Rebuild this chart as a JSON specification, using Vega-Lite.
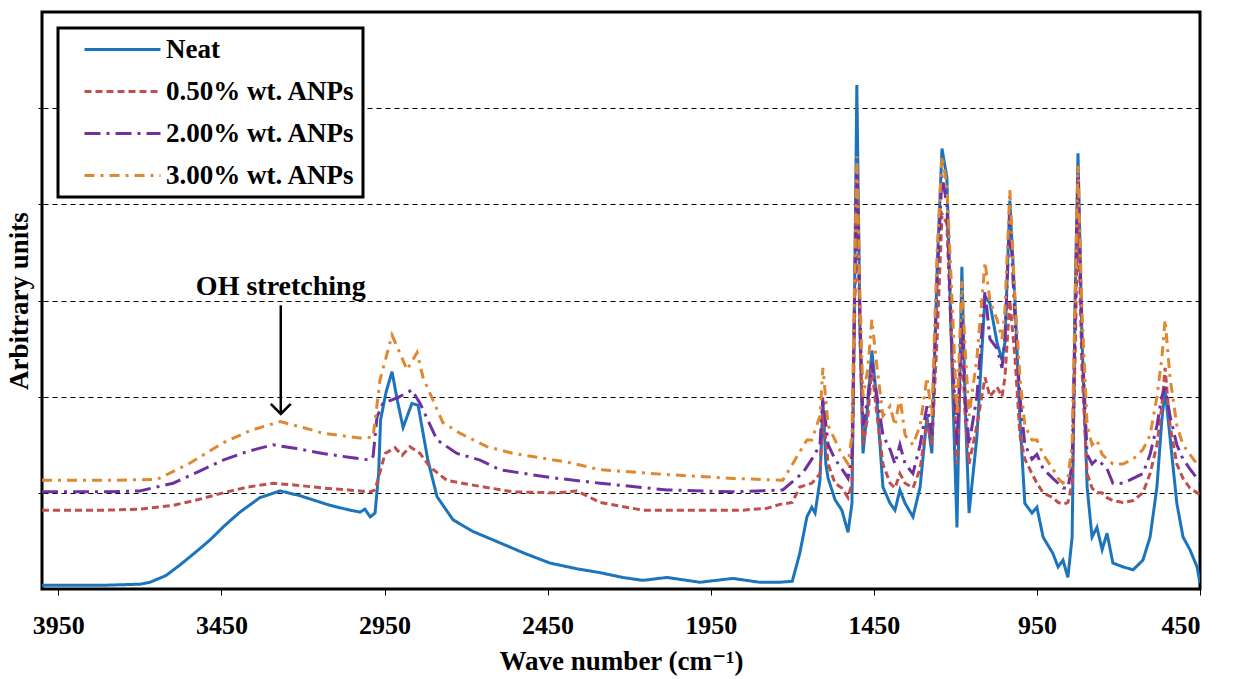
{
  "$schema": "https://vega.github.io/schema/vega-lite/v6.json",
  "width": 1158,
  "height": 577,
  "autosize": {"type": "none"},
  "padding": {"left": 42, "top": 12, "right": 34, "bottom": 90},
  "background": "white",
  "config": {
    "view": {"stroke": "black", "strokeWidth": 3},
    "font": "'Liberation Serif', 'DejaVu Serif', serif",
    "axis": {"labelFont": "'Liberation Serif', 'DejaVu Serif', serif", "titleFont": "'Liberation Serif', 'DejaVu Serif', serif", "labelFontWeight": "bold", "titleFontWeight": "bold", "labelColor": "black", "titleColor": "black", "tickColor": "black", "domain": false},
    "legend": {
      "orient": "top-left", "offset": 16, "strokeColor": "black", "strokeWidth": 3, "fillColor": "white",
      "padding": 8, "labelFont": "'Liberation Serif', 'DejaVu Serif', serif", "labelFontWeight": "bold", "labelFontSize": 27, "labelColor": "black",
      "symbolType": "M-3.8,0H3.8", "symbolSize": 400, "symbolStrokeWidth": 3, "rowPadding": 14,
      "symbolOffset": 43, "labelOffset": 30, "labelLimit": 400
    }
  },
  "datasets": {
    "spec": [
      {"s":"Neat","w":4000,"v":0.04},{"s":"Neat","w":3900,"v":0.04},{"s":"Neat","w":3800,"v":0.04},{"s":"Neat","w":3700,"v":0.05},{"s":"Neat","w":3669,"v":0.07},{"s":"Neat","w":3620,"v":0.14},{"s":"Neat","w":3577,"v":0.25},{"s":"Neat","w":3530,"v":0.38},{"s":"Neat","w":3485,"v":0.51},{"s":"Neat","w":3440,"v":0.66},{"s":"Neat","w":3393,"v":0.80},{"s":"Neat","w":3332,"v":0.95},{"s":"Neat","w":3270,"v":1.02},{"s":"Neat","w":3209,"v":0.97},{"s":"Neat","w":3117,"v":0.87},{"s":"Neat","w":3056,"v":0.82},{"s":"Neat","w":3025,"v":0.80},{"s":"Neat","w":3010,"v":0.83},{"s":"Neat","w":2994,"v":0.75},{"s":"Neat","w":2979,"v":0.79},{"s":"Neat","w":2968,"v":1.20},{"s":"Neat","w":2962,"v":1.76},{"s":"Neat","w":2945,"v":2.05},{"s":"Neat","w":2927,"v":2.26},{"s":"Neat","w":2910,"v":1.95},{"s":"Neat","w":2893,"v":1.68},{"s":"Neat","w":2866,"v":1.93},{"s":"Neat","w":2847,"v":1.91},{"s":"Neat","w":2817,"v":1.34},{"s":"Neat","w":2789,"v":0.96},{"s":"Neat","w":2740,"v":0.72},{"s":"Neat","w":2680,"v":0.60},{"s":"Neat","w":2596,"v":0.48},{"s":"Neat","w":2520,"v":0.37},{"s":"Neat","w":2443,"v":0.27},{"s":"Neat","w":2360,"v":0.21},{"s":"Neat","w":2289,"v":0.17},{"s":"Neat","w":2220,"v":0.12},{"s":"Neat","w":2158,"v":0.09},{"s":"Neat","w":2084,"v":0.12},{"s":"Neat","w":1983,"v":0.07},{"s":"Neat","w":1882,"v":0.11},{"s":"Neat","w":1800,"v":0.07},{"s":"Neat","w":1740,"v":0.07},{"s":"Neat","w":1700,"v":0.08},{"s":"Neat","w":1677,"v":0.37},{"s":"Neat","w":1655,"v":0.75},{"s":"Neat","w":1640,"v":0.85},{"s":"Neat","w":1630,"v":0.79},{"s":"Neat","w":1615,"v":1.13},{"s":"Neat","w":1606,"v":1.96},{"s":"Neat","w":1597,"v":1.30},{"s":"Neat","w":1590,"v":1.15},{"s":"Neat","w":1569,"v":0.93},{"s":"Neat","w":1548,"v":0.82},{"s":"Neat","w":1529,"v":0.59},{"s":"Neat","w":1517,"v":0.89},{"s":"Neat","w":1508,"v":3.35},{"s":"Neat","w":1502,"v":5.24},{"s":"Neat","w":1492,"v":2.62},{"s":"Neat","w":1483,"v":1.41},{"s":"Neat","w":1468,"v":1.93},{"s":"Neat","w":1456,"v":2.48},{"s":"Neat","w":1440,"v":1.93},{"s":"Neat","w":1422,"v":1.06},{"s":"Neat","w":1400,"v":0.89},{"s":"Neat","w":1385,"v":0.82},{"s":"Neat","w":1370,"v":1.03},{"s":"Neat","w":1354,"v":0.89},{"s":"Neat","w":1330,"v":0.75},{"s":"Neat","w":1308,"v":1.06},{"s":"Neat","w":1287,"v":1.79},{"s":"Neat","w":1272,"v":1.41},{"s":"Neat","w":1256,"v":3.32},{"s":"Neat","w":1241,"v":4.58},{"s":"Neat","w":1226,"v":4.28},{"s":"Neat","w":1210,"v":2.28},{"s":"Neat","w":1195,"v":0.64},{"s":"Neat","w":1180,"v":3.35},{"s":"Neat","w":1170,"v":1.93},{"s":"Neat","w":1158,"v":0.79},{"s":"Neat","w":1134,"v":1.58},{"s":"Neat","w":1109,"v":3.04},{"s":"Neat","w":1094,"v":2.97},{"s":"Neat","w":1072,"v":2.56},{"s":"Neat","w":1057,"v":2.38},{"s":"Neat","w":1048,"v":2.56},{"s":"Neat","w":1033,"v":4.04},{"s":"Neat","w":1017,"v":2.97},{"s":"Neat","w":1002,"v":1.76},{"s":"Neat","w":987,"v":0.89},{"s":"Neat","w":965,"v":0.79},{"s":"Neat","w":950,"v":0.85},{"s":"Neat","w":931,"v":0.54},{"s":"Neat","w":901,"v":0.37},{"s":"Neat","w":885,"v":0.23},{"s":"Neat","w":870,"v":0.30},{"s":"Neat","w":855,"v":0.12},{"s":"Neat","w":842,"v":0.54},{"s":"Neat","w":833,"v":2.97},{"s":"Neat","w":824,"v":4.53},{"s":"Neat","w":812,"v":2.62},{"s":"Neat","w":796,"v":1.06},{"s":"Neat","w":781,"v":0.54},{"s":"Neat","w":766,"v":0.64},{"s":"Neat","w":750,"v":0.41},{"s":"Neat","w":735,"v":0.58},{"s":"Neat","w":717,"v":0.27},{"s":"Neat","w":686,"v":0.23},{"s":"Neat","w":655,"v":0.20},{"s":"Neat","w":625,"v":0.30},{"s":"Neat","w":603,"v":0.54},{"s":"Neat","w":582,"v":1.06},{"s":"Neat","w":567,"v":1.76},{"s":"Neat","w":557,"v":2.07},{"s":"Neat","w":542,"v":1.58},{"s":"Neat","w":521,"v":0.89},{"s":"Neat","w":502,"v":0.54},{"s":"Neat","w":481,"v":0.41},{"s":"Neat","w":459,"v":0.23},{"s":"Neat","w":450,"v":0.06},

      {"s":"0.50% wt. ANPs","w":4000,"v":0.82},{"s":"0.50% wt. ANPs","w":3900,"v":0.82},{"s":"0.50% wt. ANPs","w":3800,"v":0.82},{"s":"0.50% wt. ANPs","w":3700,"v":0.83},{"s":"0.50% wt. ANPs","w":3598,"v":0.87},{"s":"0.50% wt. ANPs","w":3520,"v":0.93},{"s":"0.50% wt. ANPs","w":3445,"v":1.00},{"s":"0.50% wt. ANPs","w":3370,"v":1.06},{"s":"0.50% wt. ANPs","w":3292,"v":1.10},{"s":"0.50% wt. ANPs","w":3220,"v":1.08},{"s":"0.50% wt. ANPs","w":3139,"v":1.05},{"s":"0.50% wt. ANPs","w":3060,"v":1.03},{"s":"0.50% wt. ANPs","w":2994,"v":1.01},{"s":"0.50% wt. ANPs","w":2979,"v":1.03},{"s":"0.50% wt. ANPs","w":2948,"v":1.41},{"s":"0.50% wt. ANPs","w":2918,"v":1.47},{"s":"0.50% wt. ANPs","w":2896,"v":1.39},{"s":"0.50% wt. ANPs","w":2872,"v":1.48},{"s":"0.50% wt. ANPs","w":2841,"v":1.41},{"s":"0.50% wt. ANPs","w":2811,"v":1.27},{"s":"0.50% wt. ANPs","w":2759,"v":1.13},{"s":"0.50% wt. ANPs","w":2679,"v":1.08},{"s":"0.50% wt. ANPs","w":2556,"v":1.01},{"s":"0.50% wt. ANPs","w":2420,"v":1.00},{"s":"0.50% wt. ANPs","w":2360,"v":1.02},{"s":"0.50% wt. ANPs","w":2289,"v":0.90},{"s":"0.50% wt. ANPs","w":2158,"v":0.82},{"s":"0.50% wt. ANPs","w":1983,"v":0.82},{"s":"0.50% wt. ANPs","w":1850,"v":0.82},{"s":"0.50% wt. ANPs","w":1777,"v":0.84},{"s":"0.50% wt. ANPs","w":1738,"v":0.88},{"s":"0.50% wt. ANPs","w":1700,"v":0.90},{"s":"0.50% wt. ANPs","w":1677,"v":1.06},{"s":"0.50% wt. ANPs","w":1640,"v":1.10},{"s":"0.50% wt. ANPs","w":1615,"v":1.2},{"s":"0.50% wt. ANPs","w":1606,"v":1.85},{"s":"0.50% wt. ANPs","w":1590,"v":1.3},{"s":"0.50% wt. ANPs","w":1569,"v":1.1},{"s":"0.50% wt. ANPs","w":1548,"v":1.05},{"s":"0.50% wt. ANPs","w":1529,"v":0.95},{"s":"0.50% wt. ANPs","w":1517,"v":1.1},{"s":"0.50% wt. ANPs","w":1508,"v":3.0},{"s":"0.50% wt. ANPs","w":1502,"v":4.3},{"s":"0.50% wt. ANPs","w":1492,"v":2.6},{"s":"0.50% wt. ANPs","w":1483,"v":1.5},{"s":"0.50% wt. ANPs","w":1468,"v":1.8},{"s":"0.50% wt. ANPs","w":1456,"v":2.3},{"s":"0.50% wt. ANPs","w":1440,"v":1.8},{"s":"0.50% wt. ANPs","w":1422,"v":1.3},{"s":"0.50% wt. ANPs","w":1400,"v":1.1},{"s":"0.50% wt. ANPs","w":1385,"v":1.05},{"s":"0.50% wt. ANPs","w":1370,"v":1.2},{"s":"0.50% wt. ANPs","w":1354,"v":1.1},{"s":"0.50% wt. ANPs","w":1330,"v":1.05},{"s":"0.50% wt. ANPs","w":1308,"v":1.25},{"s":"0.50% wt. ANPs","w":1287,"v":1.75},{"s":"0.50% wt. ANPs","w":1272,"v":1.5},{"s":"0.50% wt. ANPs","w":1256,"v":2.6},{"s":"0.50% wt. ANPs","w":1241,"v":3.9},{"s":"0.50% wt. ANPs","w":1226,"v":3.8},{"s":"0.50% wt. ANPs","w":1210,"v":2.4},{"s":"0.50% wt. ANPs","w":1195,"v":1.3},{"s":"0.50% wt. ANPs","w":1180,"v":2.6},{"s":"0.50% wt. ANPs","w":1170,"v":1.8},{"s":"0.50% wt. ANPs","w":1158,"v":1.3},{"s":"0.50% wt. ANPs","w":1134,"v":1.7},{"s":"0.50% wt. ANPs","w":1109,"v":2.2},{"s":"0.50% wt. ANPs","w":1094,"v":2.0},{"s":"0.50% wt. ANPs","w":1072,"v":2.1},{"s":"0.50% wt. ANPs","w":1057,"v":2.0},{"s":"0.50% wt. ANPs","w":1048,"v":2.2},{"s":"0.50% wt. ANPs","w":1033,"v":3.0},{"s":"0.50% wt. ANPs","w":1017,"v":2.4},{"s":"0.50% wt. ANPs","w":1002,"v":1.6},{"s":"0.50% wt. ANPs","w":987,"v":1.35},{"s":"0.50% wt. ANPs","w":965,"v":1.2},{"s":"0.50% wt. ANPs","w":950,"v":1.1},{"s":"0.50% wt. ANPs","w":931,"v":1.0},{"s":"0.50% wt. ANPs","w":901,"v":0.95},{"s":"0.50% wt. ANPs","w":885,"v":0.90},{"s":"0.50% wt. ANPs","w":870,"v":0.88},{"s":"0.50% wt. ANPs","w":855,"v":0.90},{"s":"0.50% wt. ANPs","w":842,"v":1.1},{"s":"0.50% wt. ANPs","w":833,"v":2.4},{"s":"0.50% wt. ANPs","w":824,"v":4.0},{"s":"0.50% wt. ANPs","w":812,"v":2.3},{"s":"0.50% wt. ANPs","w":796,"v":1.2},{"s":"0.50% wt. ANPs","w":781,"v":1.05},{"s":"0.50% wt. ANPs","w":766,"v":1.0},{"s":"0.50% wt. ANPs","w":750,"v":1.0},{"s":"0.50% wt. ANPs","w":735,"v":0.95},{"s":"0.50% wt. ANPs","w":717,"v":0.92},{"s":"0.50% wt. ANPs","w":686,"v":0.90},{"s":"0.50% wt. ANPs","w":655,"v":0.92},{"s":"0.50% wt. ANPs","w":625,"v":1.0},{"s":"0.50% wt. ANPs","w":603,"v":1.2},{"s":"0.50% wt. ANPs","w":582,"v":1.5},{"s":"0.50% wt. ANPs","w":567,"v":1.9},{"s":"0.50% wt. ANPs","w":557,"v":2.3},{"s":"0.50% wt. ANPs","w":542,"v":1.7},{"s":"0.50% wt. ANPs","w":521,"v":1.3},{"s":"0.50% wt. ANPs","w":502,"v":1.15},{"s":"0.50% wt. ANPs","w":481,"v":1.05},{"s":"0.50% wt. ANPs","w":459,"v":1.0},{"s":"0.50% wt. ANPs","w":450,"v":0.98},

      {"s":"2.00% wt. ANPs","w":4000,"v":1.01},{"s":"2.00% wt. ANPs","w":3900,"v":1.01},{"s":"2.00% wt. ANPs","w":3800,"v":1.01},{"s":"2.00% wt. ANPs","w":3700,"v":1.02},{"s":"2.00% wt. ANPs","w":3598,"v":1.10},{"s":"2.00% wt. ANPs","w":3520,"v":1.22},{"s":"2.00% wt. ANPs","w":3445,"v":1.34},{"s":"2.00% wt. ANPs","w":3370,"v":1.43},{"s":"2.00% wt. ANPs","w":3292,"v":1.50},{"s":"2.00% wt. ANPs","w":3220,"v":1.46},{"s":"2.00% wt. ANPs","w":3139,"v":1.41},{"s":"2.00% wt. ANPs","w":3060,"v":1.37},{"s":"2.00% wt. ANPs","w":2994,"v":1.34},{"s":"2.00% wt. ANPs","w":2985,"v":1.38},{"s":"2.00% wt. ANPs","w":2973,"v":1.79},{"s":"2.00% wt. ANPs","w":2955,"v":1.93},{"s":"2.00% wt. ANPs","w":2909,"v":1.99},{"s":"2.00% wt. ANPs","w":2866,"v":2.07},{"s":"2.00% wt. ANPs","w":2841,"v":1.93},{"s":"2.00% wt. ANPs","w":2789,"v":1.55},{"s":"2.00% wt. ANPs","w":2728,"v":1.41},{"s":"2.00% wt. ANPs","w":2657,"v":1.34},{"s":"2.00% wt. ANPs","w":2596,"v":1.24},{"s":"2.00% wt. ANPs","w":2443,"v":1.16},{"s":"2.00% wt. ANPs","w":2289,"v":1.10},{"s":"2.00% wt. ANPs","w":2084,"v":1.03},{"s":"2.00% wt. ANPs","w":1882,"v":1.01},{"s":"2.00% wt. ANPs","w":1729,"v":1.03},{"s":"2.00% wt. ANPs","w":1667,"v":1.21},{"s":"2.00% wt. ANPs","w":1640,"v":1.35},{"s":"2.00% wt. ANPs","w":1615,"v":1.5},{"s":"2.00% wt. ANPs","w":1606,"v":2.0},{"s":"2.00% wt. ANPs","w":1590,"v":1.5},{"s":"2.00% wt. ANPs","w":1569,"v":1.35},{"s":"2.00% wt. ANPs","w":1548,"v":1.25},{"s":"2.00% wt. ANPs","w":1529,"v":1.15},{"s":"2.00% wt. ANPs","w":1517,"v":1.4},{"s":"2.00% wt. ANPs","w":1508,"v":3.2},{"s":"2.00% wt. ANPs","w":1502,"v":4.45},{"s":"2.00% wt. ANPs","w":1492,"v":2.8},{"s":"2.00% wt. ANPs","w":1483,"v":1.7},{"s":"2.00% wt. ANPs","w":1468,"v":2.0},{"s":"2.00% wt. ANPs","w":1456,"v":2.35},{"s":"2.00% wt. ANPs","w":1440,"v":2.0},{"s":"2.00% wt. ANPs","w":1422,"v":1.6},{"s":"2.00% wt. ANPs","w":1400,"v":1.45},{"s":"2.00% wt. ANPs","w":1385,"v":1.3},{"s":"2.00% wt. ANPs","w":1370,"v":1.5},{"s":"2.00% wt. ANPs","w":1354,"v":1.3},{"s":"2.00% wt. ANPs","w":1330,"v":1.2},{"s":"2.00% wt. ANPs","w":1308,"v":1.5},{"s":"2.00% wt. ANPs","w":1287,"v":1.9},{"s":"2.00% wt. ANPs","w":1272,"v":1.6},{"s":"2.00% wt. ANPs","w":1256,"v":3.2},{"s":"2.00% wt. ANPs","w":1241,"v":4.3},{"s":"2.00% wt. ANPs","w":1226,"v":4.0},{"s":"2.00% wt. ANPs","w":1210,"v":2.5},{"s":"2.00% wt. ANPs","w":1195,"v":1.5},{"s":"2.00% wt. ANPs","w":1180,"v":2.8},{"s":"2.00% wt. ANPs","w":1170,"v":2.0},{"s":"2.00% wt. ANPs","w":1158,"v":1.5},{"s":"2.00% wt. ANPs","w":1134,"v":2.0},{"s":"2.00% wt. ANPs","w":1109,"v":3.1},{"s":"2.00% wt. ANPs","w":1094,"v":2.6},{"s":"2.00% wt. ANPs","w":1072,"v":2.5},{"s":"2.00% wt. ANPs","w":1057,"v":2.3},{"s":"2.00% wt. ANPs","w":1048,"v":2.6},{"s":"2.00% wt. ANPs","w":1033,"v":3.9},{"s":"2.00% wt. ANPs","w":1017,"v":2.8},{"s":"2.00% wt. ANPs","w":1002,"v":2.0},{"s":"2.00% wt. ANPs","w":987,"v":1.5},{"s":"2.00% wt. ANPs","w":965,"v":1.35},{"s":"2.00% wt. ANPs","w":950,"v":1.4},{"s":"2.00% wt. ANPs","w":931,"v":1.25},{"s":"2.00% wt. ANPs","w":901,"v":1.15},{"s":"2.00% wt. ANPs","w":885,"v":1.1},{"s":"2.00% wt. ANPs","w":870,"v":1.05},{"s":"2.00% wt. ANPs","w":855,"v":1.05},{"s":"2.00% wt. ANPs","w":842,"v":1.3},{"s":"2.00% wt. ANPs","w":833,"v":2.8},{"s":"2.00% wt. ANPs","w":824,"v":4.3},{"s":"2.00% wt. ANPs","w":812,"v":2.6},{"s":"2.00% wt. ANPs","w":796,"v":1.4},{"s":"2.00% wt. ANPs","w":781,"v":1.3},{"s":"2.00% wt. ANPs","w":766,"v":1.35},{"s":"2.00% wt. ANPs","w":750,"v":1.3},{"s":"2.00% wt. ANPs","w":735,"v":1.25},{"s":"2.00% wt. ANPs","w":717,"v":1.1},{"s":"2.00% wt. ANPs","w":686,"v":1.1},{"s":"2.00% wt. ANPs","w":655,"v":1.15},{"s":"2.00% wt. ANPs","w":625,"v":1.2},{"s":"2.00% wt. ANPs","w":603,"v":1.4},{"s":"2.00% wt. ANPs","w":582,"v":1.7},{"s":"2.00% wt. ANPs","w":567,"v":2.0},{"s":"2.00% wt. ANPs","w":557,"v":2.1},{"s":"2.00% wt. ANPs","w":542,"v":1.8},{"s":"2.00% wt. ANPs","w":521,"v":1.5},{"s":"2.00% wt. ANPs","w":502,"v":1.35},{"s":"2.00% wt. ANPs","w":481,"v":1.25},{"s":"2.00% wt. ANPs","w":459,"v":1.15},{"s":"2.00% wt. ANPs","w":450,"v":1.12},

      {"s":"3.00% wt. ANPs","w":4000,"v":1.13},{"s":"3.00% wt. ANPs","w":3900,"v":1.13},{"s":"3.00% wt. ANPs","w":3800,"v":1.13},{"s":"3.00% wt. ANPs","w":3647,"v":1.14},{"s":"3.00% wt. ANPs","w":3546,"v":1.31},{"s":"3.00% wt. ANPs","w":3445,"v":1.52},{"s":"3.00% wt. ANPs","w":3360,"v":1.65},{"s":"3.00% wt. ANPs","w":3270,"v":1.74},{"s":"3.00% wt. ANPs","w":3200,"v":1.68},{"s":"3.00% wt. ANPs","w":3139,"v":1.62},{"s":"3.00% wt. ANPs","w":3025,"v":1.57},{"s":"3.00% wt. ANPs","w":2985,"v":1.58},{"s":"3.00% wt. ANPs","w":2964,"v":2.17},{"s":"3.00% wt. ANPs","w":2927,"v":2.64},{"s":"3.00% wt. ANPs","w":2881,"v":2.28},{"s":"3.00% wt. ANPs","w":2850,"v":2.46},{"s":"3.00% wt. ANPs","w":2832,"v":2.20},{"s":"3.00% wt. ANPs","w":2801,"v":1.96},{"s":"3.00% wt. ANPs","w":2771,"v":1.73},{"s":"3.00% wt. ANPs","w":2719,"v":1.62},{"s":"3.00% wt. ANPs","w":2636,"v":1.48},{"s":"3.00% wt. ANPs","w":2556,"v":1.41},{"s":"3.00% wt. ANPs","w":2391,"v":1.32},{"s":"3.00% wt. ANPs","w":2289,"v":1.24},{"s":"3.00% wt. ANPs","w":2084,"v":1.19},{"s":"3.00% wt. ANPs","w":1882,"v":1.15},{"s":"3.00% wt. ANPs","w":1729,"v":1.13},{"s":"3.00% wt. ANPs","w":1655,"v":1.55},{"s":"3.00% wt. ANPs","w":1640,"v":1.55},{"s":"3.00% wt. ANPs","w":1615,"v":1.8},{"s":"3.00% wt. ANPs","w":1606,"v":2.3},{"s":"3.00% wt. ANPs","w":1590,"v":1.7},{"s":"3.00% wt. ANPs","w":1569,"v":1.55},{"s":"3.00% wt. ANPs","w":1548,"v":1.4},{"s":"3.00% wt. ANPs","w":1529,"v":1.3},{"s":"3.00% wt. ANPs","w":1517,"v":1.6},{"s":"3.00% wt. ANPs","w":1508,"v":3.4},{"s":"3.00% wt. ANPs","w":1502,"v":4.5},{"s":"3.00% wt. ANPs","w":1492,"v":3.0},{"s":"3.00% wt. ANPs","w":1483,"v":2.0},{"s":"3.00% wt. ANPs","w":1468,"v":2.3},{"s":"3.00% wt. ANPs","w":1456,"v":2.8},{"s":"3.00% wt. ANPs","w":1440,"v":2.3},{"s":"3.00% wt. ANPs","w":1422,"v":1.8},{"s":"3.00% wt. ANPs","w":1400,"v":1.9},{"s":"3.00% wt. ANPs","w":1385,"v":1.7},{"s":"3.00% wt. ANPs","w":1370,"v":2.0},{"s":"3.00% wt. ANPs","w":1354,"v":1.6},{"s":"3.00% wt. ANPs","w":1330,"v":1.5},{"s":"3.00% wt. ANPs","w":1308,"v":1.7},{"s":"3.00% wt. ANPs","w":1287,"v":2.2},{"s":"3.00% wt. ANPs","w":1272,"v":1.8},{"s":"3.00% wt. ANPs","w":1256,"v":3.5},{"s":"3.00% wt. ANPs","w":1241,"v":4.5},{"s":"3.00% wt. ANPs","w":1226,"v":4.2},{"s":"3.00% wt. ANPs","w":1210,"v":3.0},{"s":"3.00% wt. ANPs","w":1195,"v":1.8},{"s":"3.00% wt. ANPs","w":1180,"v":3.2},{"s":"3.00% wt. ANPs","w":1170,"v":2.5},{"s":"3.00% wt. ANPs","w":1158,"v":1.8},{"s":"3.00% wt. ANPs","w":1134,"v":2.4},{"s":"3.00% wt. ANPs","w":1109,"v":3.4},{"s":"3.00% wt. ANPs","w":1094,"v":3.0},{"s":"3.00% wt. ANPs","w":1072,"v":2.8},{"s":"3.00% wt. ANPs","w":1057,"v":2.6},{"s":"3.00% wt. ANPs","w":1048,"v":2.9},{"s":"3.00% wt. ANPs","w":1033,"v":4.15},{"s":"3.00% wt. ANPs","w":1017,"v":3.0},{"s":"3.00% wt. ANPs","w":1002,"v":2.2},{"s":"3.00% wt. ANPs","w":987,"v":1.7},{"s":"3.00% wt. ANPs","w":965,"v":1.55},{"s":"3.00% wt. ANPs","w":950,"v":1.55},{"s":"3.00% wt. ANPs","w":931,"v":1.4},{"s":"3.00% wt. ANPs","w":901,"v":1.25},{"s":"3.00% wt. ANPs","w":885,"v":1.15},{"s":"3.00% wt. ANPs","w":870,"v":1.1},{"s":"3.00% wt. ANPs","w":855,"v":1.15},{"s":"3.00% wt. ANPs","w":842,"v":1.5},{"s":"3.00% wt. ANPs","w":833,"v":3.0},{"s":"3.00% wt. ANPs","w":824,"v":4.4},{"s":"3.00% wt. ANPs","w":812,"v":2.9},{"s":"3.00% wt. ANPs","w":796,"v":1.7},{"s":"3.00% wt. ANPs","w":781,"v":1.5},{"s":"3.00% wt. ANPs","w":766,"v":1.55},{"s":"3.00% wt. ANPs","w":750,"v":1.4},{"s":"3.00% wt. ANPs","w":735,"v":1.35},{"s":"3.00% wt. ANPs","w":717,"v":1.3},{"s":"3.00% wt. ANPs","w":686,"v":1.3},{"s":"3.00% wt. ANPs","w":655,"v":1.35},{"s":"3.00% wt. ANPs","w":625,"v":1.45},{"s":"3.00% wt. ANPs","w":603,"v":1.6},{"s":"3.00% wt. ANPs","w":582,"v":2.0},{"s":"3.00% wt. ANPs","w":567,"v":2.4},{"s":"3.00% wt. ANPs","w":557,"v":2.8},{"s":"3.00% wt. ANPs","w":542,"v":2.2},{"s":"3.00% wt. ANPs","w":521,"v":1.7},{"s":"3.00% wt. ANPs","w":502,"v":1.5},{"s":"3.00% wt. ANPs","w":481,"v":1.4},{"s":"3.00% wt. ANPs","w":459,"v":1.3},{"s":"3.00% wt. ANPs","w":450,"v":1.28}
    ],
    "label": [{"w": 3268, "v": 3.14, "t": "OH stretching"}],
    "arrow": [{"w": 3268, "v": 2.95, "v2": 1.84}],
    "head": [{"w": 3268, "v": 1.82}]
  },
  "encoding": {
    "x": {"field": "w", "type": "quantitative", "scale": {"domain": [450, 4000], "reverse": true, "nice": false, "zero": false},
      "axis": {"values": [3950, 3450, 2950, 2450, 1950, 1450, 950, 450], "format": "d", "grid": false, "labelFontSize": 26, "tickSize": 6, "labelPadding": 17, "title": "Wave number (cm⁻¹)", "titleFontSize": 27, "titlePadding": 10}},
    "y": {"field": "v", "type": "quantitative", "scale": {"domain": [0, 6], "nice": false, "zero": false},
      "axis": {"values": [1, 2, 3, 4, 5], "labels": false, "grid": true, "gridColor": "black", "gridDash": [5, 4], "gridWidth": 1.2, "gridOpacity": 1, "tickSize": 4, "title": "Arbitrary units", "titleFontSize": 27, "titlePadding": 4}}
  },
  "layer": [
    {
      "data": {"name": "spec"},
      "mark": {"type": "line", "strokeWidth": 3, "clip": true},
      "encoding": {
        "color": {"field": "s", "type": "nominal", "title": null,
          "scale": {"domain": ["Neat", "0.50% wt. ANPs", "2.00% wt. ANPs", "3.00% wt. ANPs"], "range": ["#1c75bc", "#c0504d", "#7030a0", "#e0882f"]}},
        "strokeDash": {"field": "s", "type": "nominal", "title": null,
          "scale": {"domain": ["Neat", "0.50% wt. ANPs", "2.00% wt. ANPs", "3.00% wt. ANPs"], "range": [[1, 0], [7, 4], [16, 6, 3, 6], [10, 6, 3, 6]]}}
      }
    },
    {
      "data": {"name": "label"},
      "mark": {"type": "text", "font": "'Liberation Serif', 'DejaVu Serif', serif", "fontWeight": "bold", "fontSize": 28, "align": "center", "baseline": "middle", "color": "black"},
      "encoding": {"text": {"field": "t"}}
    },
    {
      "data": {"name": "arrow"},
      "mark": {"type": "rule", "color": "black", "strokeWidth": 2.5},
      "encoding": {"y2": {"field": "v2"}}
    },
    {
      "data": {"name": "head"},
      "mark": {"type": "point", "shape": "M-1,-1L0,0L1,-1", "size": 400, "filled": false, "stroke": "black", "strokeWidth": 2.5, "opacity": 1},
      "encoding": {}
    }
  ]
}
